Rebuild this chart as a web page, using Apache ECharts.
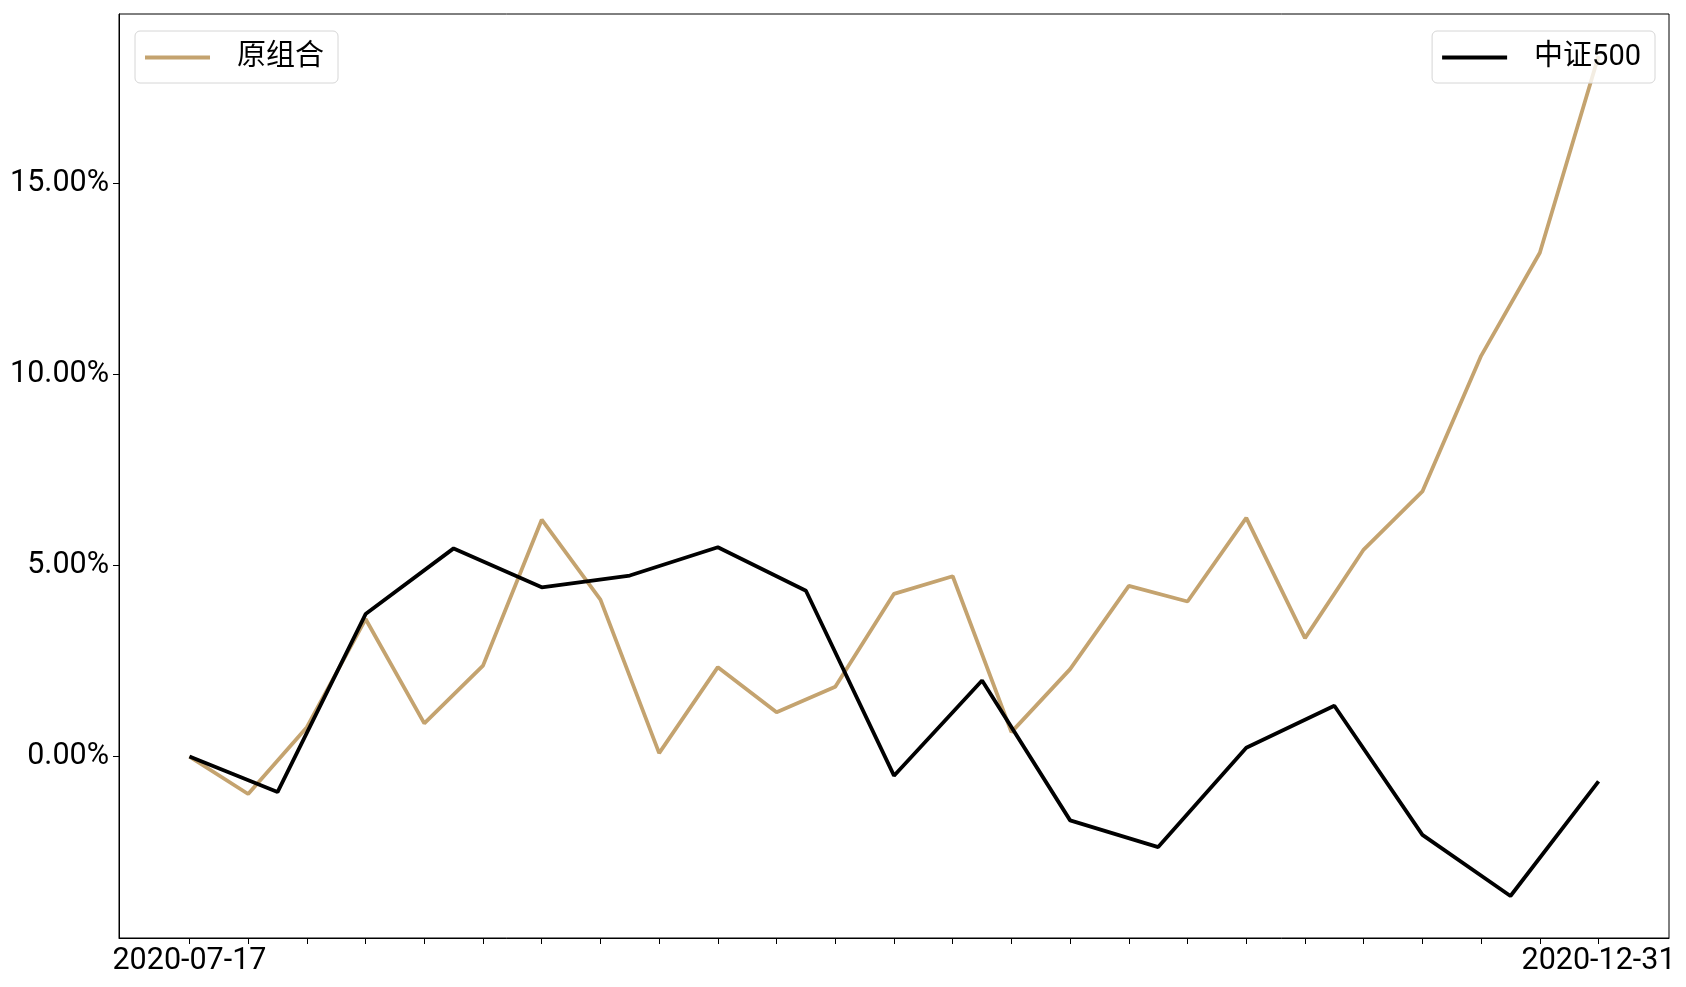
<!DOCTYPE html>
<html>
<head>
<meta charset="utf-8">
<script src="https://cdn.jsdelivr.net/npm/echarts@6/dist/echarts.min.js"></script>
<style>
html,body{margin:0;padding:0;background:#fff;}
#chart{width:1686px;height:987px;}
</style>
</head>
<body>
<div id="chart"></div>
<script>
// 原组合: weekly cumulative return (%), 25 points
const portfolioName = '原组合';
const portfolioValues = [0, -0.98, 0.77, 3.60, 0.87, 2.38, 6.20, 4.11, 0.09, 2.34, 1.16, 1.83, 4.26, 4.72, 0.64, 2.29, 4.47, 4.06, 6.25, 3.10, 5.42, 6.94, 10.49, 13.19, 18.34];
// 中证500: cumulative return (%), 17 points over the same span
const indexName = '中证500';
const indexValues = [0, -0.93, 3.73, 5.45, 4.43, 4.74, 5.48, 4.34, -0.50, 1.99, -1.67, -2.37, 0.23, 1.33, -2.05, -3.65, -0.65];
// x tick labels (only first and last shown)
const xTickLabelIndex = [0, 24];
const xTickLabels = ['2020-07-17', '2020-12-31'];
// y tick values (%)
const yTickValues = [0, 5, 10, 15];

const FONT = 'Roboto, "Noto Sans CJK SC", sans-serif';
const tan = '#C4A36F';

const nP = portfolioValues.length - 1;
const nI = indexValues.length - 1;
const allVals = portfolioValues.concat(indexValues);
const lo = Math.min(...allVals), hi = Math.max(...allVals);
const pad = 0.05 * (hi - lo);
const xTickIdx = portfolioValues.map((v, i) => i);

const chart = echarts.init(document.getElementById('chart'), null, {renderer: 'canvas'});
const legendBase = {
  orient: 'horizontal',
  top: 31,
  padding: [12, 14, 11, 10],
  backgroundColor: 'rgba(255,255,255,0.8)',
  borderColor: '#d6d6d6',
  borderWidth: 1,
  borderRadius: 5,
  icon: 'rect',
  itemWidth: 65,
  itemHeight: 4,
  textStyle: {fontFamily: FONT, fontSize: 29, color: '#000', padding: [0, 0, 0, 22]}
};
chart.setOption({
  animation: false,
  backgroundColor: '#fff',
  grid: {left: 119, right: 17, top: 14, bottom: 49, show: true, borderColor: '#000', borderWidth: 1, backgroundColor: 'transparent'},
  legend: [
    Object.assign({}, legendBase, {left: 135, data: [portfolioName]}),
    Object.assign({}, legendBase, {right: 31, data: [indexName]})
  ],
  xAxis: [
    {
      type: 'value', min: -0.05 * nP, max: nP * 1.05,
      axisLine: {show: true, onZero: false, lineStyle: {color: '#000', width: 1}},
      axisTick: {show: true, length: 6, lineStyle: {color: '#000', width: 1}, customValues: xTickIdx},
      axisLabel: {
        show: true, margin: 8, fontFamily: FONT, fontSize: 30.5, color: '#000',
        customValues: xTickLabelIndex,
        formatter: v => { const k = xTickLabelIndex.indexOf(Math.round(v)); return k >= 0 ? xTickLabels[k] : ''; }
      },
      splitLine: {show: false}
    },
    {
      type: 'value', min: -0.05 * nI, max: nI * 1.05, show: false,
      axisLine: {onZero: false},
      splitLine: {show: false}
    }
  ],
  yAxis: {
    type: 'value', min: lo - pad, max: hi + pad,
    axisLine: {show: true, onZero: false, lineStyle: {color: '#000', width: 1}},
    axisTick: {show: true, length: 6, lineStyle: {color: '#000', width: 1}, customValues: yTickValues},
    axisLabel: {
      show: true, margin: 10, fontFamily: FONT, fontSize: 30.5, color: '#000',
      customValues: yTickValues,
      formatter: v => v.toFixed(2) + '%'
    },
    splitLine: {show: false}
  },
  series: [
    {
      name: portfolioName, type: 'line', xAxisIndex: 0, symbol: 'none', color: tan,
      lineStyle: {color: tan, width: 3.8}, z: 2,
      data: portfolioValues.map((v, i) => [i, v])
    },
    {
      name: indexName, type: 'line', xAxisIndex: 1, symbol: 'none', color: '#000',
      lineStyle: {color: '#000', width: 3.8}, z: 3,
      data: indexValues.map((v, i) => [i, v])
    }
  ]
});
</script>
</body>
</html>
